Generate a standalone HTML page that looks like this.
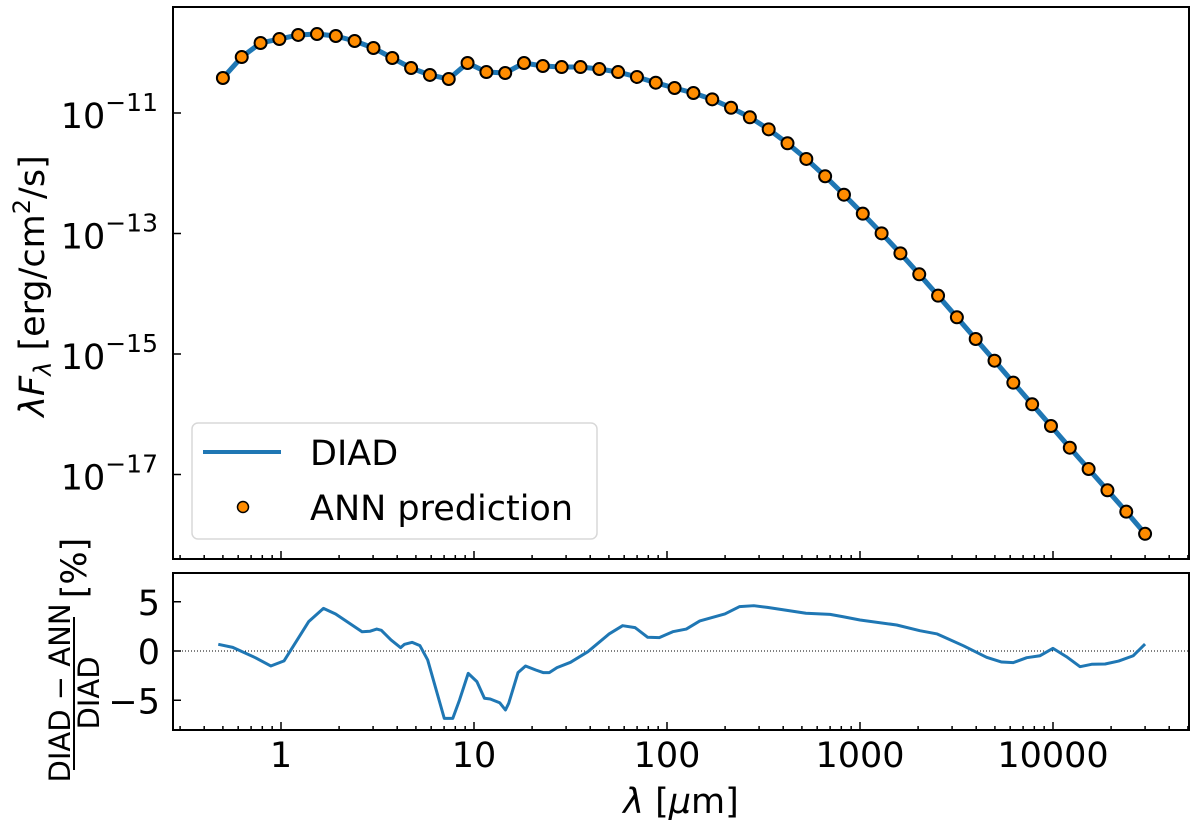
<!DOCTYPE html>
<html><head><meta charset="utf-8">
<style>
html,body{margin:0;padding:0;background:#fff;}
svg{display:block;font-family:"DejaVu Sans","Liberation Sans",sans-serif;}
</style></head>
<body>
<svg id="chart" width="1200" height="829" viewBox="0 0 1200 829" xmlns="http://www.w3.org/2000/svg">
<g id="topPanel"></g>
<g id="botPanel"></g>
<g transform="translate(44,286) rotate(-90)">
<text x="0" y="0" font-size="35" text-anchor="middle"><tspan font-style="italic">λF</tspan><tspan font-style="italic" font-size="24" dy="7">λ</tspan><tspan dy="-7"> [erg/cm</tspan><tspan font-size="24" dy="-14">2</tspan><tspan dy="14">/s]</tspan></text>
</g>
<g transform="translate(75,651) rotate(-90)">
<text x="-42" y="-5" font-size="29" text-anchor="middle">DIAD − ANN</text>
<line x1="-119" y1="-1" x2="34" y2="-1" stroke="#000" stroke-width="2"/>
<text x="-42" y="24" font-size="29" text-anchor="middle">DIAD</text>
<text x="83" y="11" font-size="35" text-anchor="middle">[%]</text>
</g>
<text x="681" y="813" font-size="35" text-anchor="middle"><tspan font-style="italic">λ</tspan> [<tspan font-style="italic">μ</tspan>m]</text>
<g id="legendG">
<rect x="192" y="423" width="405" height="116" rx="6" fill="#fff" fill-opacity="0.8" stroke="#d8d8d8" stroke-width="1.5"/>
<line x1="203" y1="452" x2="281" y2="452" stroke="#1f77b4" stroke-width="4"/>
<text x="310" y="465" font-size="35">DIAD</text>
<circle cx="243" cy="507" r="5.5" fill="#ff8c00" stroke="#000" stroke-width="1.5"/>
<text x="310" y="520" font-size="35">ANN prediction</text>
</g>
</svg>
<script>
// ---- data ----
const annLogLam = [];
for (let i = 0; i < 50; i++) annLogLam.push(Math.log10(0.5) + i * (Math.log10(30000) - Math.log10(0.5)) / 49);
const annLogFlux = [-10.419,-10.071,-9.838,-9.772,-9.705,-9.689,-9.722,-9.805,-9.921,-10.087,-10.253,-10.369,-10.436,-10.170,-10.320,-10.336,-10.170,-10.220,-10.237,-10.237,-10.270,-10.320,-10.402,-10.497,-10.585,-10.668,-10.773,-10.913,-11.071,-11.271,-11.503,-11.763,-12.050,-12.356,-12.671,-12.997,-13.329,-13.677,-14.032,-14.391,-14.751,-15.111,-15.476,-15.835,-16.195,-16.555,-16.909,-17.262,-17.617,-17.984];
const diadStartLogLam = [-0.326];
const diadStartLogFlux = [-10.47];
const resLogLam = [-0.325,-0.25,-0.133,-0.053,0.016,0.144,0.22,0.283,0.42,0.46,0.496,0.52,0.57,0.62,0.64,0.68,0.72,0.76,0.846,0.89,0.925,0.97,1.015,1.054,1.084,1.133,1.163,1.18,1.228,1.267,1.32,1.36,1.39,1.43,1.50,1.59,1.70,1.77,1.835,1.90,1.96,2.03,2.10,2.17,2.30,2.375,2.45,2.52,2.72,2.845,2.913,3.0,3.19,3.31,3.40,3.535,3.656,3.734,3.794,3.864,3.933,4.0,4.07,4.14,4.20,4.27,4.34,4.416,4.477];
const resPct = [0.68,0.37,-0.68,-1.52,-1.0,3.0,4.33,3.76,1.96,2.0,2.23,2.1,1.12,0.34,0.68,0.88,0.54,-0.91,-6.84,-6.84,-4.97,-2.27,-3.11,-4.8,-4.87,-5.25,-5.99,-5.3,-2.2,-1.52,-1.93,-2.2,-2.2,-1.69,-1.15,-0.07,1.73,2.57,2.37,1.39,1.36,1.96,2.23,3.05,3.76,4.5,4.6,4.43,3.83,3.72,3.48,3.15,2.64,2.06,1.73,0.54,-0.64,-1.12,-1.18,-0.68,-0.48,0.27,-0.58,-1.59,-1.35,-1.32,-1.02,-0.48,0.71];
const xTickVals = [0, 1, 2, 3, 4];
const xTickLabels = ["1", "10", "100", "1000", "10000"];
const yTopTickVals = [-11, -13, -15, -17];
const yBotTickVals = [5, 0, -5];

// ---- axes ----
const L = 173, R = 1189, T1 = 7, B1 = 559, T2 = 573, B2 = 730;
const xs = lg => 281 + 193 * lg;
const yTop = lg => 113 - 60.25 * (lg + 11);
const yBot = v => 651 - 9.85 * v;
const NS = "http://www.w3.org/2000/svg";
function mk(tag, attrs, parent) {
  const e = document.createElementNS(NS, tag);
  for (const k in attrs) e.setAttribute(k, attrs[k]);
  parent.appendChild(e);
  return e;
}
const topG = document.getElementById('topPanel');
const botG = document.getElementById('botPanel');

function xTicks(g, yb, withLabels) {
  for (let d = -1; d <= 4; d++) {
    for (let m = 1; m <= 9; m++) {
      const lg = d + Math.log10(m);
      const x = xs(lg);
      if (x < L || x > R) continue;
      const len = m === 1 ? 8 : 4;
      const t = mk('line', {x1: x, y1: yb, x2: x, y2: yb - len, stroke: '#000', 'stroke-width': 1.5}, g);
      
      
    }
  }
  if (withLabels) {
    xTickVals.forEach((v, i) => {
      const t = mk('text', {x: xs(v), y: 767, 'font-size': 35, 'text-anchor': 'middle'}, g);
      t.textContent = xTickLabels[i];
      
      
    });
  }
}

// top panel
xTicks(topG, B1, false);
yTopTickVals.forEach(v => {
  const y = yTop(v);
  const t = mk('line', {x1: L, y1: y, x2: L + 8, y2: y, stroke: '#000', 'stroke-width': 1.5}, topG);
  
  
  const tx = mk('text', {x: 158, y: y + 15, 'font-size': 35, 'text-anchor': 'end'}, topG);
  
  
  const a = mk('tspan', {}, tx); a.textContent = '10';
  const b = mk('tspan', {'font-size': 25, dy: -17}, tx); b.textContent = '−' + (-v);
});
const dPts = diadStartLogLam.map((l, i) => [xs(l), yTop(diadStartLogFlux[i])])
  .concat(annLogLam.map((l, i) => [xs(l), yTop(annLogFlux[i])]));
const diad = mk('polyline', {points: dPts.map(p => p.join(',')).join(' '), fill: 'none', stroke: '#1f77b4', 'stroke-width': 5, 'stroke-linejoin': 'round'}, topG);


annLogLam.forEach((l, i) => {
  const c = mk('circle', {cx: xs(l), cy: yTop(annLogFlux[i]), r: 6, fill: '#ff8c00', stroke: '#000', 'stroke-width': 2}, topG);
  
  
});
const f1 = mk('rect', {x: L, y: T1, width: R - L, height: B1 - T1, fill: 'none', stroke: '#000', 'stroke-width': 2}, topG);



// bottom panel
xTicks(botG, B2, true);
yBotTickVals.forEach(v => {
  const y = yBot(v);
  const t = mk('line', {x1: L, y1: y, x2: L + 8, y2: y, stroke: '#000', 'stroke-width': 1.5}, botG);
  
  
  const tx = mk('text', {x: 160, y: y + 13, 'font-size': 35, 'text-anchor': 'end'}, botG);
  tx.textContent = v < 0 ? '−' + (-v) : String(v);
  
  
});
const zl = mk('line', {x1: L, y1: yBot(0), x2: R, y2: yBot(0), stroke: '#000', 'stroke-width': 1, 'stroke-dasharray': '1,2'}, botG);


const rl = mk('polyline', {points: resLogLam.map((l, i) => xs(l) + ',' + yBot(resPct[i])).join(' '), fill: 'none', stroke: '#1f77b4', 'stroke-width': 3, 'stroke-linejoin': 'round'}, botG);


const f2 = mk('rect', {x: L, y: T2, width: R - L, height: B2 - T2, fill: 'none', stroke: '#000', 'stroke-width': 2}, botG);


</script>
</body></html>
